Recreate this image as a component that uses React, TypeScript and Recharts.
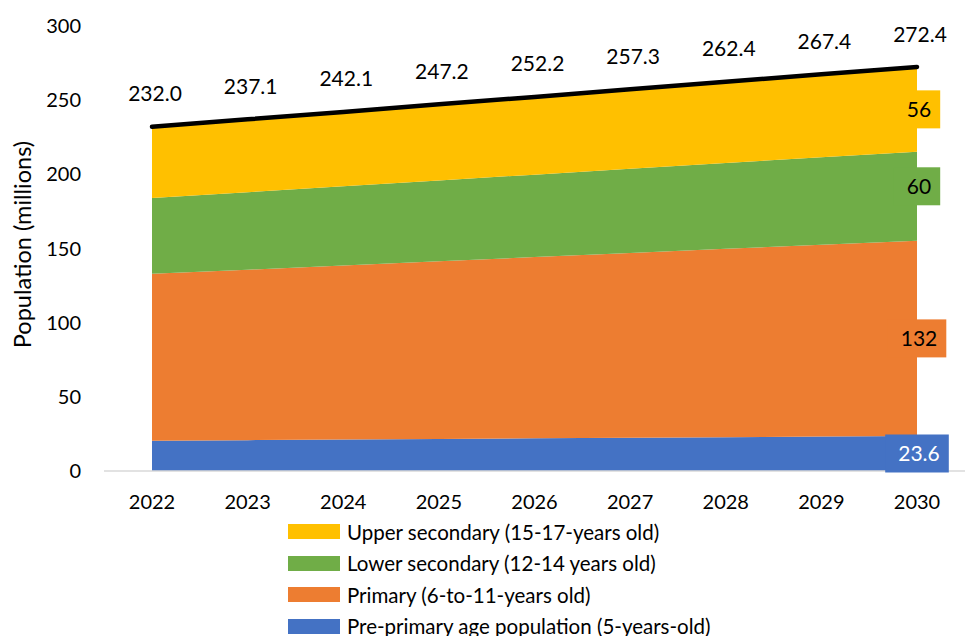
import React from 'react';
import { ComposedChart, Area, Line, XAxis, YAxis, LabelList, Legend } from 'recharts';

const years = ['2022', '2023', '2024', '2025', '2026', '2027', '2028', '2029', '2030'];
const prePrimary = [20.4, 20.8, 21.2, 21.6, 22.0, 22.4, 22.8, 23.2, 23.6];
const primary = [112.5, 114.9, 117.3, 119.8, 122.2, 124.6, 127.0, 129.4, 131.6];
const lowerSecondary = [51.2, 52.3, 53.4, 54.5, 55.6, 56.7, 57.8, 58.9, 60.0];
const upperSecondary = [47.9, 49.1, 50.2, 51.3, 52.4, 53.6, 54.8, 55.9, 57.2];
const total = [232.0, 237.1, 242.1, 247.2, 252.2, 257.3, 262.4, 267.4, 272.4];
const totalLabels = ['232.0', '237.1', '242.1', '247.2', '252.2', '257.3', '262.4', '267.4', '272.4'];
const endLabels = ['23.6', '132', '60', '56'];
const yTicks = [0, 50, 100, 150, 200, 250, 300];

const seriesNames = [
  'Pre-primary age population (5-years-old)',
  'Primary (6-to-11-years old)',
  'Lower secondary (12-14 years old)',
  'Upper secondary (15-17-years old)',
];
const seriesKeys = ['pre', 'primary', 'lower', 'upper'];
const seriesColors = ['#4472C4', '#ED7D31', '#70AD47', '#FFC000'];
const endLabelColors = ['#FFFFFF', '#000000', '#000000', '#000000'];
const seriesValues = [prePrimary, primary, lowerSecondary, upperSecondary];

const data = years.map((y, i) => ({
  year: y,
  pre: prePrimary[i],
  primary: primary[i],
  lower: lowerSecondary[i],
  upper: upperSecondary[i],
  total: total[i],
}));

const W = 965;
const H = 636;
const MARGIN = { top: 26, right: 0, bottom: 125, left: 0 };
const X_AXIS_H = 40;
const PLOT_H = H - MARGIN.top - MARGIN.bottom - X_AXIS_H;
const Y_MAX = 300;
const FONT = 'Lato, "Open Sans", sans-serif';

const makeEndLabel = (si: number) => (props: any) => {
  const { x, y, index } = props;
  if (index !== years.length - 1) return null;
  const v = seriesValues[si][index];
  const bandPx = (v * PLOT_H) / Y_MAX;
  let cy = y + bandPx / 2;
  if (si === 2) cy -= 10;
  const text = endLabels[si];
  const tw = text.replace('.', '').length * 12.2 + (text.includes('.') ? 5 : 0);
  const bw = tw + 22;
  const bh = 38;
  return (
    <g>
      <rect x={x - bw / 2} y={cy - bh / 2} width={bw} height={bh} fill={seriesColors[si]} />
      <text
        x={x + 2}
        y={cy}
        dy="0.36em"
        textAnchor="middle"
        fontSize={21}
        fontFamily={FONT}
        fill={endLabelColors[si]}
      >
        {text}
      </text>
    </g>
  );
};

const totalLabel = (props: any) => {
  const { x, y, index } = props;
  return (
    <text x={x + 3} y={y - 33} dy="0.36em" textAnchor="middle" fontSize={21} fontFamily={FONT} fill="#000">
      {totalLabels[index]}
    </text>
  );
};

const legendContent = () => {
  const order = [3, 2, 1, 0];
  return (
    <div style={{ fontFamily: FONT, fontSize: 20.5, color: '#000' }}>
      {order.map((si) => (
        <div key={si} style={{ display: 'flex', alignItems: 'center', height: 31.5, whiteSpace: 'nowrap' }}>
          <span style={{ display: 'inline-block', width: 52, height: 15, background: seriesColors[si], marginRight: 7 }} />
          <span>{seriesNames[si]}</span>
        </div>
      ))}
    </div>
  );
};

const yLabel = (props: any) => {
  const vb = props.viewBox || { x: 0, y: MARGIN.top, width: 104, height: PLOT_H };
  const cx = 23;
  const cy = vb.y + vb.height / 2 - 4;
  return (
    <text
      x={cx}
      y={cy}
      transform={`rotate(-90, ${cx}, ${cy})`}
      textAnchor="middle"
      dy="0.36em"
      fontSize={23.5}
      fontFamily={FONT}
      fill="#000"
    >
      Population (millions)
    </text>
  );
};

export default function App() {
  return (
    <div style={{ position: 'absolute', left: 0, top: 0, width: W, height: H, background: '#fff', fontFamily: FONT }}>
      <ComposedChart width={W} height={H} data={data} margin={MARGIN}>
        <XAxis
          dataKey="year"
          padding={{ left: 48, right: 48 }}
          height={X_AXIS_H}
          tickLine={false}
          tickSize={0}
          tickMargin={24}
          axisLine={{ stroke: '#D9D9D9', strokeWidth: 1.5 }}
          tick={{ fontSize: 20, fill: '#000', fontFamily: FONT }}
        />
        <YAxis
          width={104}
          domain={[0, Y_MAX]}
          ticks={yTicks}
          interval={0}
          axisLine={false}
          tickLine={false}
          tickSize={0}
          tickMargin={23}
          tick={{ fontSize: 20, fill: '#000', fontFamily: FONT }}
          label={{ content: yLabel }}
        />
        {seriesKeys.map((k, si) => (
          <Area
            key={k}
            type="linear"
            dataKey={k}
            name={seriesNames[si]}
            stackId="a"
            stroke="none"
            fill={seriesColors[si]}
            fillOpacity={1}
            isAnimationActive={false}
          >
            <LabelList content={makeEndLabel(si)} />
          </Area>
        ))}
        <Line
          type="linear"
          dataKey="total"
          stroke="#000"
          strokeWidth={4.5}
          strokeLinecap="round"
          dot={false}
          activeDot={false}
          isAnimationActive={false}
          legendType="none"
        >
          <LabelList content={totalLabel} />
        </Line>
        <Legend
          layout="vertical"
          align="center"
          verticalAlign="middle"
          content={legendContent}
          wrapperStyle={{ position: 'absolute', left: 288, top: 516, width: 'auto', height: 'auto' }}
        />
      </ComposedChart>
    </div>
  );
}
